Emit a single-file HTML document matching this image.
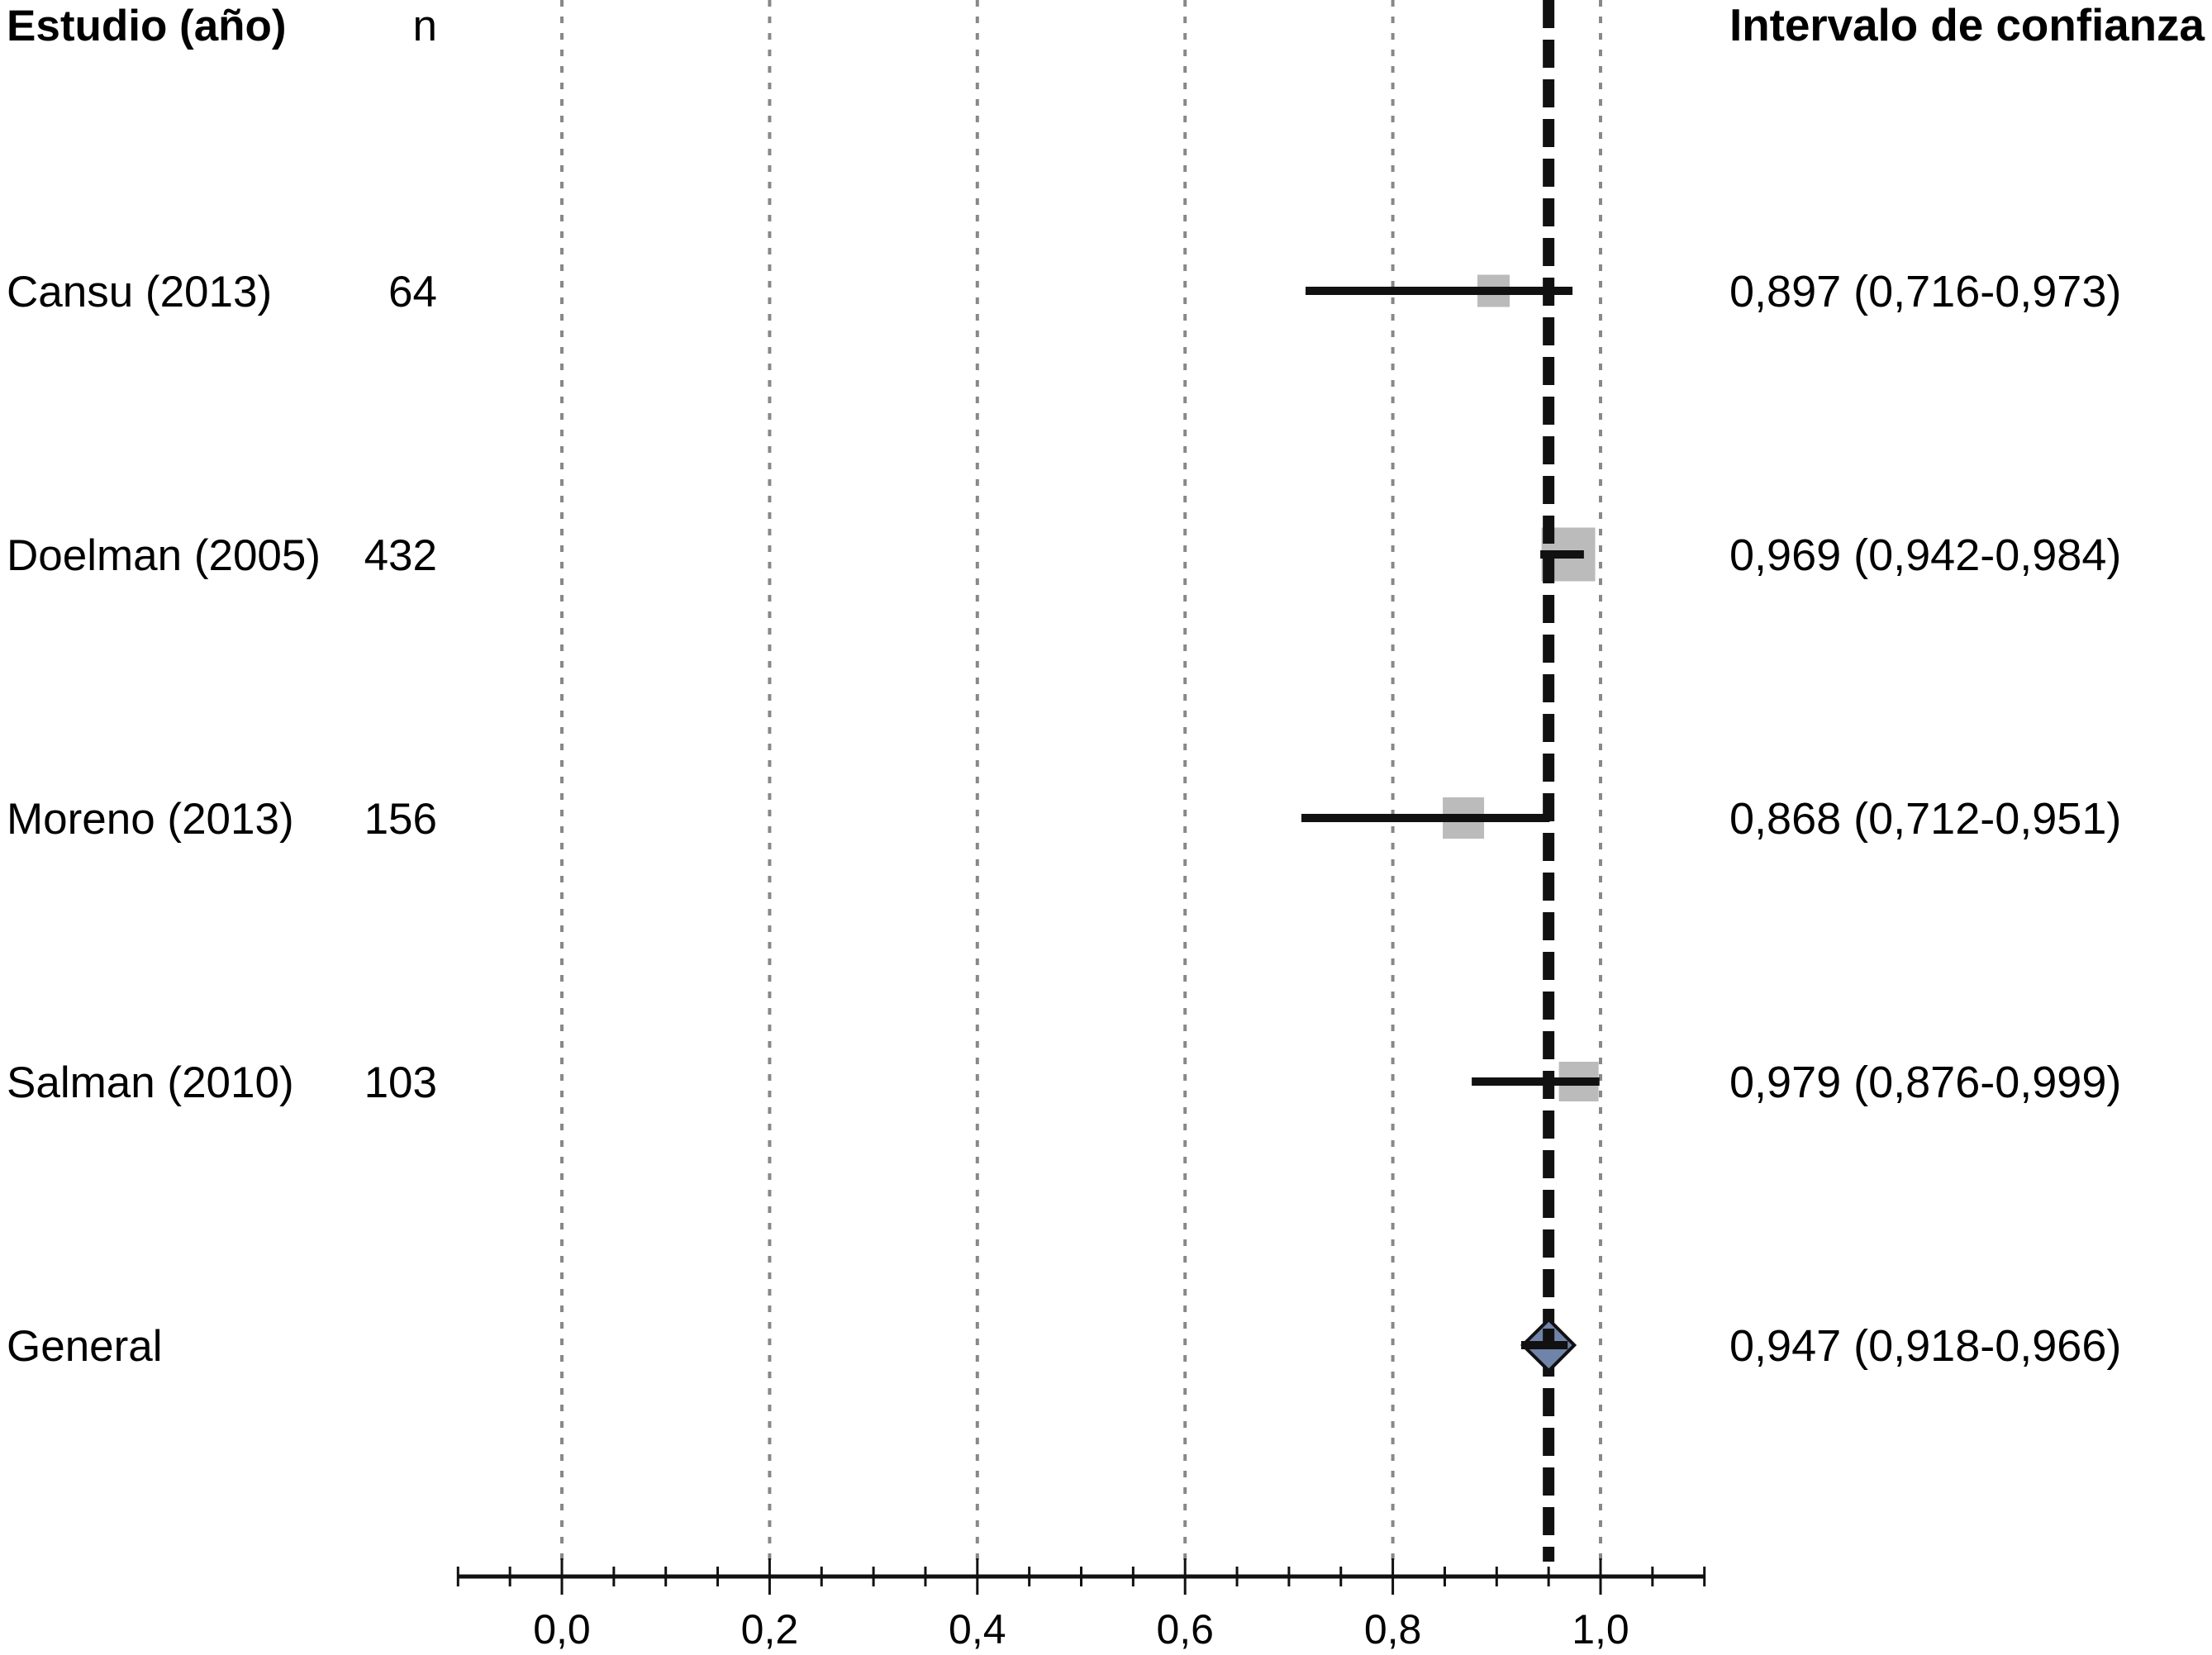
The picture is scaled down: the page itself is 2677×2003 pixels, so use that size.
<!DOCTYPE html>
<html><head><meta charset="utf-8"><style>
html,body{margin:0;padding:0;background:#fff;}
svg{display:block;font-family:"Liberation Sans",Arial,sans-serif;}
</style></head><body>
<svg id="chart" width="2677" height="2003" viewBox="0 0 2677 2003" xmlns="http://www.w3.org/2000/svg">
<text x="8" y="49" font-size="53" font-weight="bold">Estudio (año)</text>
<text x="529" y="49" font-size="53" text-anchor="end">n</text>
<text x="2668" y="49" font-size="55" font-weight="bold" text-anchor="end" textLength="575">Intervalo de confianza</text>
<g id="grid"></g><g id="marks"></g><g id="axis"></g><g id="labels"></g>
</svg>
<script>
const studies = ["Cansu (2013)", "Doelman (2005)", "Moreno (2013)", "Salman (2010)"];
const sampleSizes = ["64", "432", "156", "103"];
const estimates = [0.897, 0.969, 0.868, 0.979];
const lowers = [0.716, 0.942, 0.712, 0.876];
const uppers = [0.973, 0.984, 0.951, 0.999];
const weights = [39, 65, 50, 48];
const ciLabels = ["0,897 (0,716-0,973)", "0,969 (0,942-0,984)", "0,868 (0,712-0,951)", "0,979 (0,876-0,999)"];
const pooled = [0.947, 0.918, 0.966];
const pooledLabel = "0,947 (0,918-0,966)";
const refLine = 0.95;
const tickValues = [0, 0.2, 0.4, 0.6, 0.8, 1.0];
const tickLabels = ["0,0", "0,2", "0,4", "0,6", "0,8", "1,0"];
const axisMin = -0.1, axisMax = 1.1;

const NS = "http://www.w3.org/2000/svg";
const X = v => 680 + 1257 * v;
const rowY = i => 352 + i * 319;
function mk(parent, tag, attrs) {
  const e = document.createElementNS(NS, tag);
  for (const k in attrs) e.setAttribute(k, attrs[k]);
  document.getElementById(parent).appendChild(e);
  return e;
}
tickValues.forEach((v, i) => {
  const l = mk("grid", "line", {x1: X(v), x2: X(v), y1: 0, y2: 1890, stroke: "#888", "stroke-width": 4, "stroke-dasharray": "8 12"});
  
  
});
studies.forEach((s, i) => {
  const y = rowY(i), w = weights[i];
  const sq = mk("marks", "rect", {x: X(estimates[i]) - w / 2, y: y - w / 2, width: w, height: w, fill: "#bbb"});
  
  
});
const rl = mk("marks", "line", {x1: X(refLine), x2: X(refLine), y1: 0, y2: 1890, stroke: "#111", "stroke-width": 14, "stroke-dasharray": "34 14"});


studies.forEach((s, i) => {
  const y = rowY(i);
  const ci = mk("marks", "line", {x1: X(lowers[i]), x2: X(uppers[i]), y1: y, y2: y, stroke: "#111", "stroke-width": 10});
  
  
  const t1 = mk("labels", "text", {x: 8, y: y + 19, "font-size": 53});
  t1.textContent = s;
  
  
  const t2 = mk("labels", "text", {x: 529, y: y + 19, "font-size": 53, "text-anchor": "end"});
  t2.textContent = sampleSizes[i];
  
  
  const t3 = mk("labels", "text", {x: 2093, y: y + 19, "font-size": 54});
  t3.textContent = ciLabels[i];
  
  
});
const py = rowY(4);
const dm = mk("marks", "polygon", {points: `${X(pooled[0])+4},${py-31} ${X(pooled[2])+11},${py} ${X(pooled[0])+4},${py+31} ${X(pooled[1])+9},${py}`, fill: "#7083a8", stroke: "#111", "stroke-width": 4});


const pl = mk("marks", "line", {x1: X(pooled[1]) + 7, x2: X(pooled[2]) + 3, y1: py, y2: py, stroke: "#111", "stroke-width": 10});


const ps = mk("marks", "line", {x1: X(refLine), x2: X(refLine), y1: py - 20, y2: py, stroke: "#111", "stroke-width": 14});


const g1 = mk("labels", "text", {x: 8, y: py + 19, "font-size": 53});
g1.textContent = "General";


const g2 = mk("labels", "text", {x: 2093, y: py + 19, "font-size": 54});
g2.textContent = pooledLabel;


const ax = mk("axis", "line", {x1: X(axisMin), x2: X(axisMax), y1: 1908, y2: 1908, stroke: "#111", "stroke-width": 5});


for (let k = -2; k <= 22; k++) {
  const v = k * 0.05;
  const major = k % 4 === 0;
  const t = mk("axis", "line", {x1: X(v), x2: X(v), y1: major ? 1886 : 1896, y2: major ? 1930 : 1920, stroke: "#111", "stroke-width": 3});
  
  
}
tickValues.forEach((v, i) => {
  const t = mk("axis", "text", {x: X(v), y: 1989, "font-size": 50, "text-anchor": "middle"});
  t.textContent = tickLabels[i];
  
  
});
</script>
</body></html>
